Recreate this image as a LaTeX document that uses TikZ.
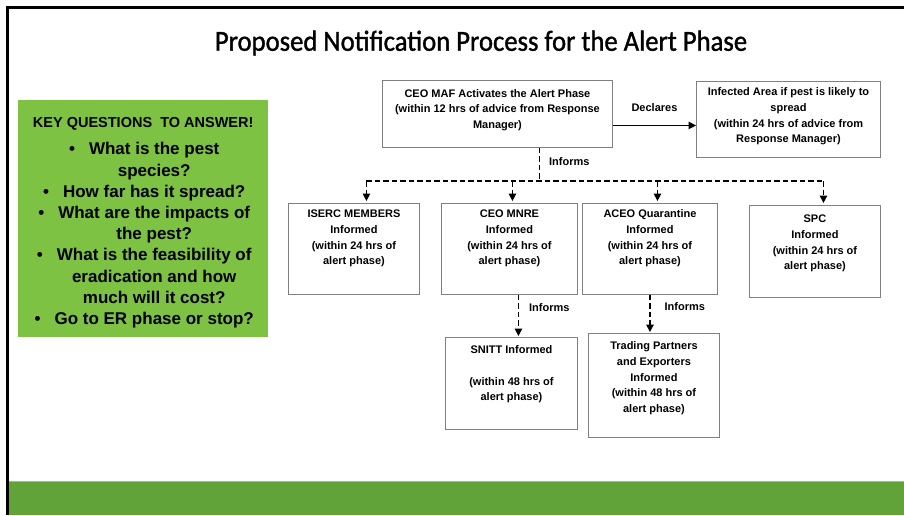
\documentclass[tikz,border=0pt]{standalone}
\usepackage{fontspec}
\usetikzlibrary{arrows.meta}
\newfontfamily\titlefont[FakeStretch=0.92,FakeBold=1.2]{Carlito}
\newfontfamily\af{Liberation Sans}
\definecolor{keygreen}{RGB}{125,194,66}
\definecolor{bandgreen}{RGB}{98,163,57}
\definecolor{bandline}{RGB}{150,196,120}
\definecolor{boxgray}{RGB}{128,128,128}
\newcommand\bxt[4]{\parbox[t][#2pt][t]{#1pt}{\centering\rule{0pt}{#3pt}#4}}
\newcommand\bul{\leavevmode\llap{\textbullet\hspace{14pt}}}
\begin{document}
\begin{tikzpicture}[x=1pt,y=-1pt,
  box/.style={draw=boxgray,line width=0.9pt,fill=white,inner sep=0pt,anchor=north west,
    font=\af\bfseries\fontsize{11}{15.8}\selectfont},
  lbl/.style={font=\af\bfseries\fontsize{11}{13}\selectfont,inner sep=1pt},
  flow/.style={line width=1.4pt,-{Triangle[length=7.5pt,width=7.5pt]}},
  dflow/.style={flow,dash pattern=on 5.5pt off 3pt},
  dline/.style={line width=1.4pt,dash pattern=on 5.5pt off 3pt}]
\useasboundingbox (0,0) rectangle (904,515);
\fill[white] (0,0) rectangle (904,515);
% frame and band
\fill[bandgreen] (8.7,482) rectangle (904,515);
\draw[bandline,line width=1pt] (8.7,481.5) -- (904,481.5);
\draw[line width=2.5pt] (7.5,515) -- (7.5,7.5) -- (904,7.5);
% title
\node[font=\titlefont\fontsize{29}{32}\selectfont] (title) at (481,43) {Proposed Notification Process for the Alert Phase};
% key questions
\node[fill=keygreen,inner sep=0pt,anchor=north west] (key) at (18,100) {\parbox[t][237pt][t]{250pt}{\centering\af\bfseries
  \fontsize{14.5}{16}\selectfont\rule{0pt}{27pt}KEY QUESTIONS\ \ TO ANSWER!\par
  \vspace{6.5pt}
  \fontsize{17}{21.2}\selectfont\leftskip=22pt plus 1fil
  \bul What is the pest\\ species?\\
  \bul How far has it spread?\\
  \bul What are the impacts of\\ the pest?\\
  \bul What is the feasibility of\\ eradication and how\\ much will it cost?\\
  \bul Go to ER phase or stop?\par}};
% boxes
\node[box] (maf) at (382,80) {\bxt{230}{67}{16.6}{CEO MAF Activates the Alert Phase\\(within 12 hrs of advice from Response\\Manager)}};
\node[box] (inf) at (696,81) {\bxt{184}{76}{14}{Infected Area if pest is likely to\\spread\\(within 24 hrs of advice from\\Response Manager)}};
\node[box] (iserc) at (288,203) {\bxt{131}{91}{14}{ISERC MEMBERS\\Informed\\(within 24 hrs of\\alert phase)}};
\node[box] (mnre) at (441,203) {\bxt{136}{91}{14}{CEO MNRE\\Informed\\(within 24 hrs of\\alert phase)}};
\node[box] (aceo) at (582,203) {\bxt{135}{91}{14}{ACEO Quarantine\\Informed\\(within 24 hrs of\\alert phase)}};
\node[box] (spc) at (749,205) {\bxt{131}{92}{17}{SPC\\Informed\\(within 24 hrs of\\alert phase)}};
\node[box] (snitt) at (445,337) {\bxt{132}{92}{16}{SNITT Informed\\\mbox{}\\(within 48 hrs of\\alert phase)}};
\node[box] (trade) at (588,333) {\bxt{131}{104}{16}{Trading Partners\\and Exporters\\Informed\\(within 48 hrs of\\alert phase)}};
% connectors
\coordinate (d1) at ([yshift=-11.5pt]maf.east);
\draw[flow] (d1) -- (d1 -| inf.west) node[lbl,midway,above=12pt] {Declares};
\coordinate (m1) at ([xshift=42pt]maf.south);
\coordinate (bus) at (539,181);
\draw[dline] (m1) -- (m1 |- bus) node[lbl,pos=0.4,right=8pt] {Informs};
\coordinate (t1) at ([xshift=12.5pt]iserc.north);
\coordinate (t2) at ([xshift=3pt]mnre.north);
\coordinate (t3) at ([xshift=7.5pt]aceo.north);
\coordinate (t4) at ([xshift=8.5pt]spc.north);
\draw[dline] (t1 |- bus) -- (t4 |- bus);
\foreach \t in {t1,t2,t3,t4} \draw[dflow,shorten >=2pt] (\t |- bus) -- (\t);
\coordinate (s0) at ([xshift=9pt]mnre.south);
\draw[dflow,shorten >=1pt] (s0) -- (s0 |- snitt.north) node[lbl,pos=0.3,right=9pt] {Informs};
\draw[dflow,shorten >=1pt] (aceo.south) -- (aceo.south |- trade.north) node[lbl,pos=0.3,right=13pt] {Informs};
\end{tikzpicture}
\end{document}
